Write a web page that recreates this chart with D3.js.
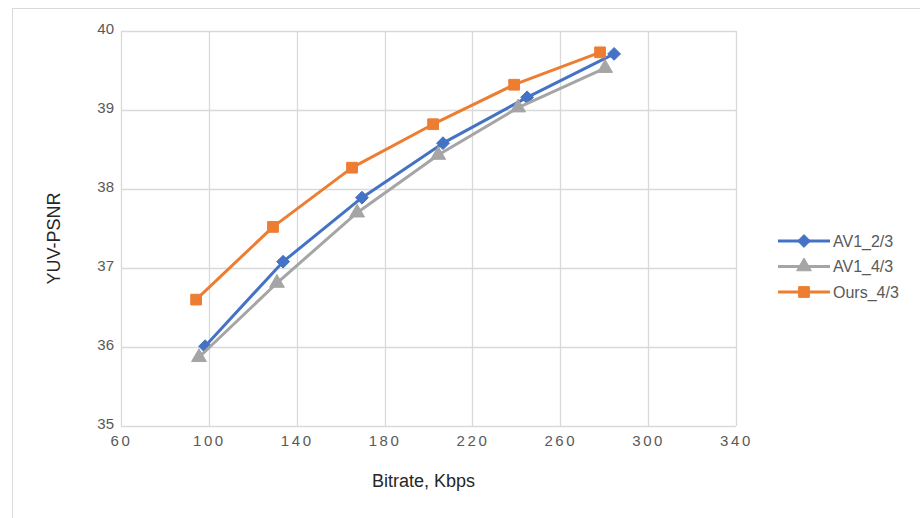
<!DOCTYPE html>
<html>
<head>
<meta charset="utf-8">
<script src="https://cdn.jsdelivr.net/npm/d3@7"></script>
<style>
  html, body { margin: 0; padding: 0; background: #fff; }
  svg { display: block; }
  text { font-family: "Liberation Sans", Arial, sans-serif; }
</style>
</head>
<body>
<svg id="chart" width="920" height="518"></svg>
<script>
// Rate–distortion curves: YUV-PSNR (dB) vs bitrate (Kbps)
const seriesNames = ["AV1_2/3", "AV1_4/3", "Ours_4/3"];
const seriesColors = ["#4472C4", "#A5A5A5", "#ED7D31"];
const seriesMarkers = ["diamond", "triangle", "square"];

const av1_23_bitrate = [98.3, 133.8, 169.7, 206.6, 244.9, 284.5];
const av1_23_psnr    = [36.01, 37.08, 37.89, 38.58, 39.16, 39.71];

const av1_43_bitrate = [95.5, 131.0, 167.5, 204.4, 240.8, 280.4];
const av1_43_psnr    = [35.87, 36.81, 37.70, 38.43, 39.03, 39.53];

const ours_43_bitrate = [94.2, 129.2, 165.2, 202.1, 239.0, 278.1];
const ours_43_psnr    = [36.60, 37.52, 38.27, 38.82, 39.32, 39.73];

const xTicks = [60, 100, 140, 180, 220, 260, 300, 340];
const yTicks = [35, 36, 37, 38, 39, 40];

const series = [
  { name: seriesNames[0], color: seriesColors[0], marker: seriesMarkers[0],
    points: av1_23_bitrate.map((b, i) => ({ x: b, y: av1_23_psnr[i] })) },
  { name: seriesNames[1], color: seriesColors[1], marker: seriesMarkers[1],
    points: av1_43_bitrate.map((b, i) => ({ x: b, y: av1_43_psnr[i] })) },
  { name: seriesNames[2], color: seriesColors[2], marker: seriesMarkers[2],
    points: ours_43_bitrate.map((b, i) => ({ x: b, y: ours_43_psnr[i] })) }
];

const svg = d3.select("#chart");

// outer chart frame
svg.append("rect")
  .attr("x", 12.5).attr("y", 8.5)
  .attr("width", 1000).attr("height", 600)
  .attr("fill", "#fff").attr("stroke", "#D9D9D9").attr("stroke-width", 1);

const plot = { left: 121, right: 736, top: 31, bottom: 426 };

const x = d3.scaleLinear().domain([60, 340]).range([plot.left, plot.right]);
const y = d3.scaleLinear().domain([35, 40]).range([plot.bottom, plot.top]);

// gridlines
const grid = svg.append("g").attr("stroke", "#D9D9D9").attr("stroke-width", 1.3);
grid.selectAll(".vg").data(xTicks).join("line")
  .attr("x1", d => Math.round(x(d)) + 0.5).attr("x2", d => Math.round(x(d)) + 0.5)
  .attr("y1", plot.top).attr("y2", plot.bottom);
grid.selectAll(".hg").data(yTicks).join("line")
  .attr("x1", plot.left).attr("x2", plot.right)
  .attr("y1", d => Math.round(y(d)) + 0.5).attr("y2", d => Math.round(y(d)) + 0.5);

// axes (labels only; lines are the grid)
const xAxis = svg.append("g")
  .attr("transform", `translate(0,${plot.bottom})`)
  .call(d3.axisBottom(x).tickValues(xTicks).tickFormat(d3.format("d")).tickSize(0).tickPadding(0));
xAxis.select(".domain").remove();
xAxis.selectAll("text")
  .attr("y", 20)
  .attr("dy", 0)
  .attr("fill", "#595959")
  .style("font-size", "15px")
  .style("letter-spacing", "2.6px")
  .style("font-family", "'Liberation Sans', Arial, sans-serif");

const yAxis = svg.append("g")
  .attr("transform", `translate(${plot.left},0)`)
  .call(d3.axisLeft(y).tickValues(yTicks).tickFormat(d3.format("d")).tickSize(0).tickPadding(7));
yAxis.select(".domain").remove();
yAxis.selectAll("text")
  .attr("dy", "0.15em")
  .attr("fill", "#595959")
  .style("font-size", "15px")
  .style("font-family", "'Liberation Sans', Arial, sans-serif");

// axis titles
svg.append("text")
  .attr("x", (plot.left + plot.right) / 2 - 5)
  .attr("y", 487)
  .attr("text-anchor", "middle")
  .attr("fill", "#262626")
  .style("font-size", "18px")
  .text("Bitrate, Kbps");

svg.append("text")
  .attr("transform", `translate(60,${(plot.top + plot.bottom) / 2 + 10}) rotate(-90)`)
  .attr("text-anchor", "middle")
  .attr("fill", "#262626")
  .style("font-size", "18px")
  .text("YUV-PSNR");

// marker shapes
const symbolFor = {
  diamond: d3.symbol().type(d3.symbolDiamond2).size(105),
  triangle: d3.symbol().type(d3.symbolTriangle).size(95),
  square: d3.symbol().type(d3.symbolSquare).size(115)
};

const line = d3.line().x(d => x(d.x)).y(d => y(d.y));

series.forEach(s => {
  const g = svg.append("g");
  g.append("path")
    .attr("d", line(s.points))
    .attr("fill", "none")
    .attr("stroke", s.color)
    .attr("stroke-width", 3)
    .attr("stroke-linejoin", "round");
  g.selectAll("path.m").data(s.points).join("path")
    .attr("class", "m")
    .attr("transform", d => `translate(${x(d.x)},${y(d.y)})`)
    .attr("d", symbolFor[s.marker]())
    .attr("fill", s.color)
    .attr("stroke", s.color)
    .attr("stroke-width", 1);
});

// legend
const legend = svg.append("g");
series.forEach((s, i) => {
  const ly = 241 + i * 25.5;
  legend.append("line")
    .attr("x1", 778).attr("x2", 830)
    .attr("y1", ly).attr("y2", ly)
    .attr("stroke", s.color).attr("stroke-width", 3);
  legend.append("path")
    .attr("transform", `translate(804,${ly})`)
    .attr("d", symbolFor[s.marker]())
    .attr("fill", s.color)
    .attr("stroke", s.color);
  legend.append("text")
    .attr("x", 833).attr("y", ly)
    .attr("dy", "0.36em")
    .attr("fill", "#595959")
    .style("font-size", "16px")
    .text(s.name);
});
</script>
</body>
</html>
